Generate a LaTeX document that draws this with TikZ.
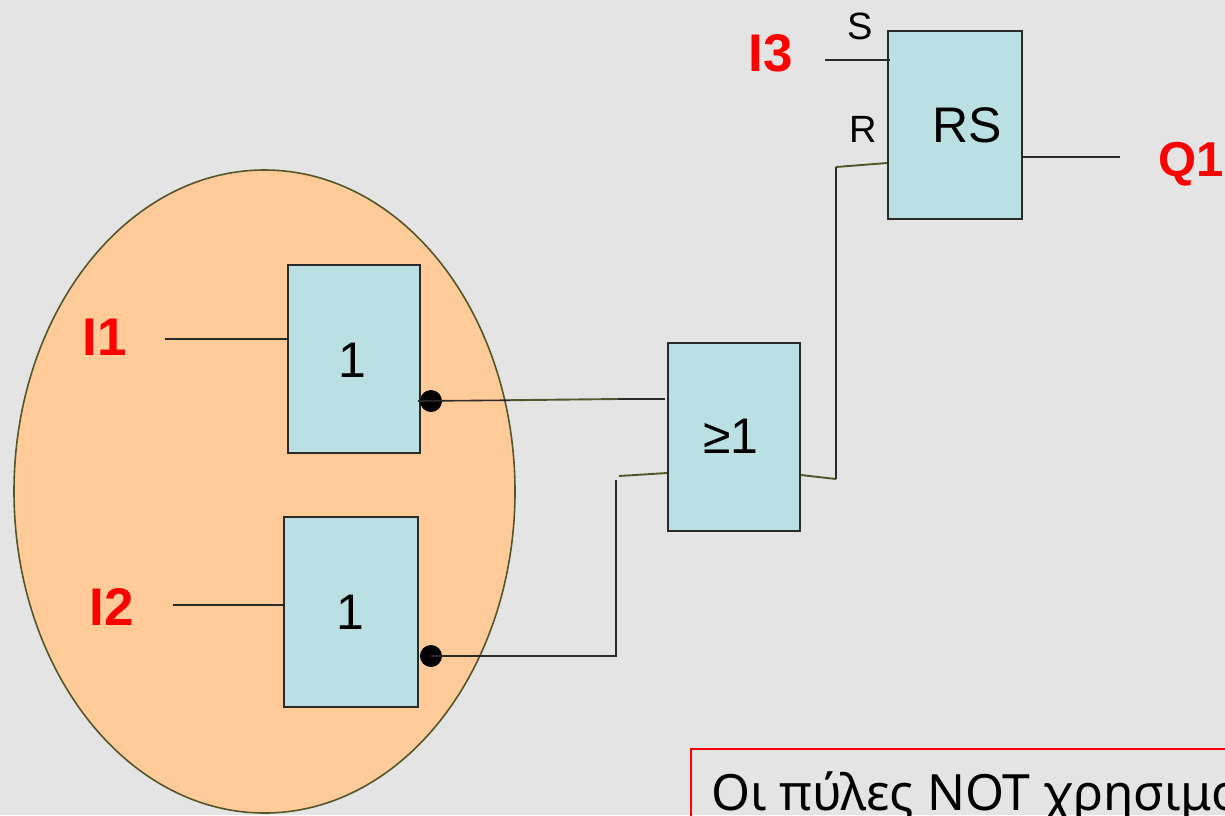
\documentclass[tikz,border=0pt]{standalone}
\usepackage{fontspec}
\usetikzlibrary{shapes.geometric}
\setmainfont{Liberation Sans}
\newfontfamily\notefont{Noto Sans}
\definecolor{pagebg}{HTML}{E4E4E4}
\definecolor{gatefill}{HTML}{BBE0E3}
\definecolor{blobfill}{HTML}{FFCC99}
\definecolor{wireolive}{HTML}{55552A}
\definecolor{wiredark}{HTML}{2A2A2A}
\tikzset{
  x=1pt,y=-1pt,
  gate/.style={draw=wiredark,line width=1.7pt,fill=gatefill,rectangle,inner sep=0pt},
  gatetext/.style={text=black,inner sep=0pt,font=\fontsize{50}{50}\selectfont},
  wire/.style={draw=wiredark,line width=1.6pt},
  olivewire/.style={draw=wireolive,line width=1.9pt},
  redlabel/.style={text=red,inner sep=0pt,font=\fontsize{53}{53}\selectfont\bfseries},
  pinlabel/.style={text=black,inner sep=0pt,font=\fontsize{38}{38}\selectfont},
  dot/.style={circle,fill=black,inner sep=0pt,minimum size=22pt}
}
\begin{document}
\begin{tikzpicture}
\useasboundingbox (0,0) rectangle (1225,815);
\clip (0,0) rectangle (1225,815);
\fill[pagebg] (0,0) rectangle (1225,815);
\node[ellipse,draw=wireolive,line width=1.6pt,fill=blobfill,minimum width=501pt,minimum height=643pt,inner sep=0pt] (blob) at (264.5,491.5) {};
\node[gate,minimum width=132pt,minimum height=188pt] (g1) at (354,359) {};
\node[gatetext] (g1t) at (352,360) {1};
\node[gate,minimum width=134pt,minimum height=190pt] (g2) at (351,612) {};
\node[gatetext] (g2t) at (350,612) {1};
\node[gate,minimum width=132pt,minimum height=188pt] (org) at (734,437) {};
\node[gatetext] (orgt) at (731,436) {≥1};
\node[gate,minimum width=134pt,minimum height=188pt] (rs) at (955,125) {};
\node[gatetext] (rst) at (967,125) {RS};
\node[redlabel] (i1) at (105,337) {I1};
\node[redlabel] (i2) at (112,607) {I2};
\node[redlabel] (i3) at (771,53) {I3};
\node[redlabel,anchor=west,font=\fontsize{49}{49}\selectfont\bfseries] (q1) at (1158,164) {Q1};
\node[pinlabel] (s) at (860,26) {S};
\node[pinlabel] (r) at (863,129) {R};
\node[dot] (d1) at (431,401) {};
\node[dot] (d2) at (431,656) {};
\coordinate (i1w) at (165,339);
\coordinate (i2w) at (173,605);
\coordinate (i3w) at (825,60);
\coordinate (q1w) at (1120,157);
\coordinate (a0) at (418,401);
\coordinate (a1) at (618,399);
\coordinate (a2) at (665,399);
\coordinate (a3) at (510,400.2);
\coordinate (b1) at (616,656);
\coordinate (b2) at (616,480);
\coordinate (b3) at (619,476);
\coordinate (c1) at (836,479);
\coordinate (c2) at (836,167);
\coordinate (s1) at (890,60);
\draw[wire] (i1w) -- (i1w -| g1.west);
\draw[wire] (i2w) -- (i2w -| g2.west);
\draw[wire] (i3w) -- (s1);
\draw[wire] (rs.east |- q1w) -- (q1w);
\draw[wire] (a0) -- (a3);
\draw[olivewire] (a3) -- (a1);
\draw[wire] (a1) -- (a2);
\draw[wire] (d2.center) -- (b1) -- (b2);
\draw[olivewire] (b3) -- (org.west |- 0,473);
\draw[olivewire] (org.east |- 0,475) -- (c1);
\draw[wire] (c1) -- (c2);
\draw[olivewire] (c2) -- (rs.west |- 0,163);
\node[draw=red,line width=2pt,anchor=north west,minimum width=700pt,minimum height=200pt,inner sep=0pt] (note) at (690,748) {};
\node[anchor=base west,inner sep=0pt,font=\notefont\fontsize{50}{50}\selectfont] (notet) at (711,810) {Οι πύλες NOT χρησιμο};
\end{tikzpicture}
\end{document}
